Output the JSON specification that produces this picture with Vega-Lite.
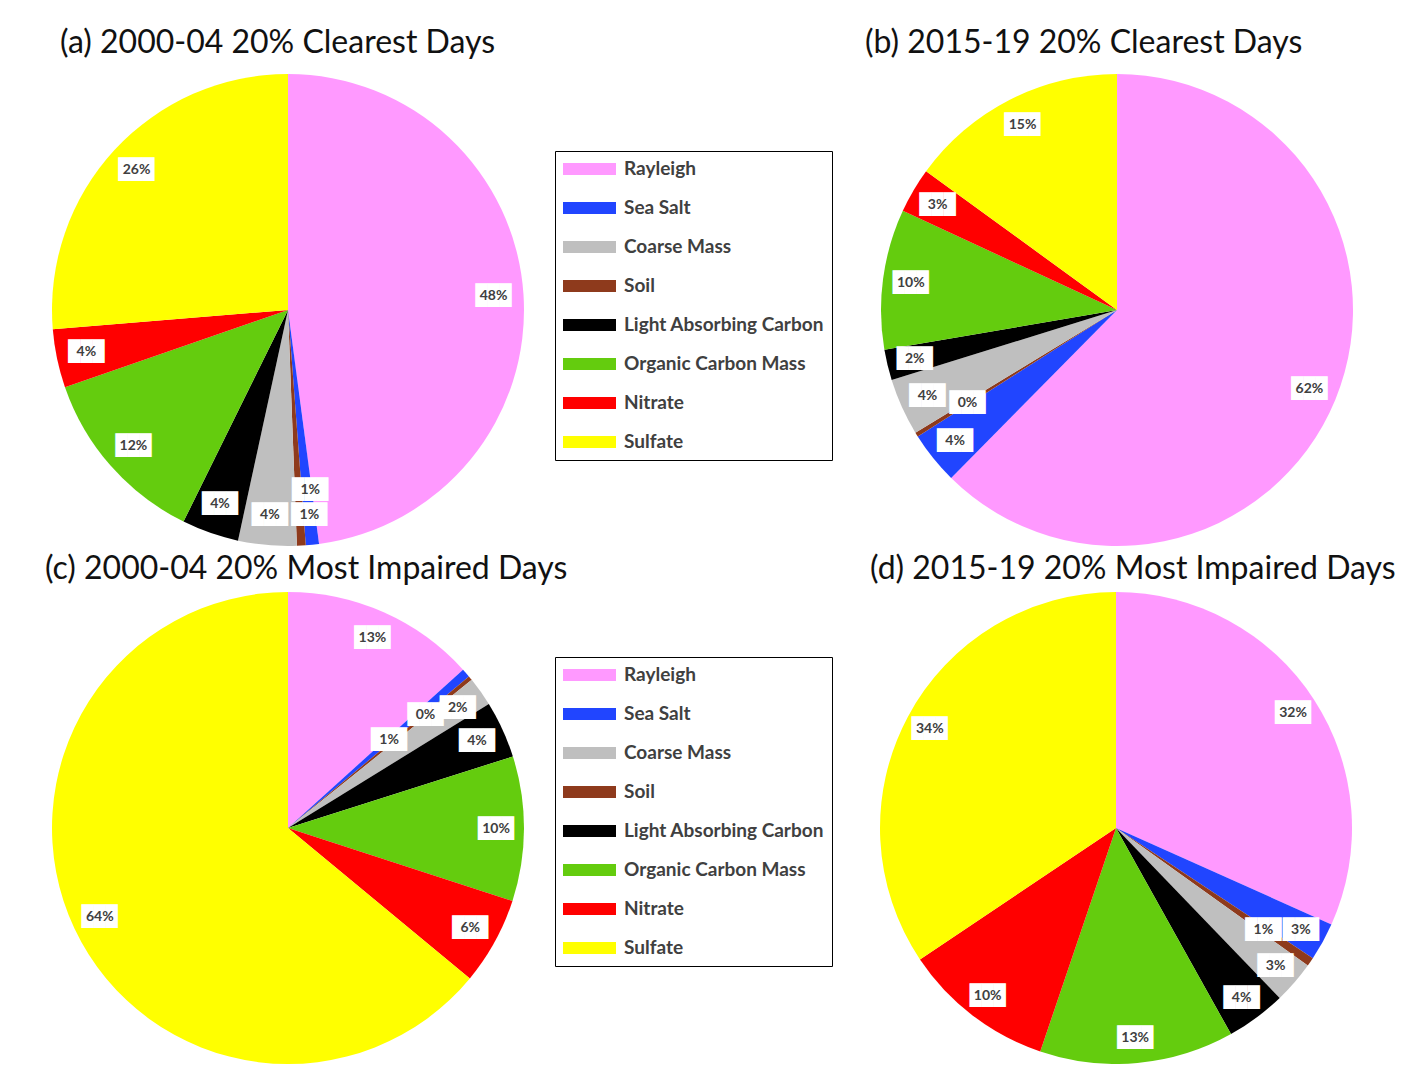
{
  "$schema": "https://vega.github.io/schema/vega-lite/v6.json",
  "padding": {"left": 45, "top": 27, "right": 0, "bottom": 0},
  "background": "white",
  "config": {
    "view": {"stroke": null},
    "title": {"font": "Lato", "fontSize": 32, "fontWeight": "normal", "color": "#111111", "anchor": "start", "frame": "group", "baseline": "alphabetic"},
    "legend": {"orient": "none", "title": null, "symbolType": "M-1,-0.6H4.3V0.6H-1Z", "symbolSize": 400, "symbolStrokeWidth": 0, "labelOffset": 41, "labelFont": "Lato", "labelFontSize": 19, "labelFontWeight": "bold", "labelColor": "#404040", "rowPadding": 19, "padding": 8, "strokeColor": "black", "fillColor": "white", "labelLimit": 300}
  },
  "datasets": {
    "d": [
      {"p": "a", "c": "Rayleigh", "v": 0.479, "o": 1},
      {"p": "a", "c": "Sea Salt", "v": 0.009, "o": 2},
      {"p": "a", "c": "Soil", "v": 0.006, "o": 3},
      {"p": "a", "c": "Coarse Mass", "v": 0.040, "o": 4},
      {"p": "a", "c": "Light Absorbing Carbon", "v": 0.039, "o": 5},
      {"p": "a", "c": "Organic Carbon Mass", "v": 0.124, "o": 6},
      {"p": "a", "c": "Nitrate", "v": 0.040, "o": 7},
      {"p": "a", "c": "Sulfate", "v": 0.263, "o": 8},
      {"p": "b", "c": "Rayleigh", "v": 0.624, "o": 1},
      {"p": "b", "c": "Sea Salt", "v": 0.036, "o": 2},
      {"p": "b", "c": "Soil", "v": 0.003, "o": 3},
      {"p": "b", "c": "Coarse Mass", "v": 0.039, "o": 4},
      {"p": "b", "c": "Light Absorbing Carbon", "v": 0.021, "o": 5},
      {"p": "b", "c": "Organic Carbon Mass", "v": 0.096, "o": 6},
      {"p": "b", "c": "Nitrate", "v": 0.031, "o": 7},
      {"p": "b", "c": "Sulfate", "v": 0.150, "o": 8},
      {"p": "c", "c": "Rayleigh", "v": 0.133, "o": 1},
      {"p": "c", "c": "Sea Salt", "v": 0.006, "o": 2},
      {"p": "c", "c": "Soil", "v": 0.003, "o": 3},
      {"p": "c", "c": "Coarse Mass", "v": 0.020, "o": 4},
      {"p": "c", "c": "Light Absorbing Carbon", "v": 0.039, "o": 5},
      {"p": "c", "c": "Organic Carbon Mass", "v": 0.099, "o": 6},
      {"p": "c", "c": "Nitrate", "v": 0.060, "o": 7},
      {"p": "c", "c": "Sulfate", "v": 0.640, "o": 8},
      {"p": "d", "c": "Rayleigh", "v": 0.317, "o": 1},
      {"p": "d", "c": "Sea Salt", "v": 0.026, "o": 2},
      {"p": "d", "c": "Soil", "v": 0.006, "o": 3},
      {"p": "d", "c": "Coarse Mass", "v": 0.029, "o": 4},
      {"p": "d", "c": "Light Absorbing Carbon", "v": 0.041, "o": 5},
      {"p": "d", "c": "Organic Carbon Mass", "v": 0.133, "o": 6},
      {"p": "d", "c": "Nitrate", "v": 0.104, "o": 7},
      {"p": "d", "c": "Sulfate", "v": 0.344, "o": 8}
    ]
  },
  "resolve": {"legend": {"color": "independent"}},
  "spacing": 7,
  "vconcat": [
    {
      "spacing": 32,
      "resolve": {"legend": {"color": "independent"}},
      "hconcat": [
        {
          "width": 472, "height": 472,
          "title": {"text": "(a) 2000-04 20% Clearest Days", "dx": 8, "offset": 14},
          "data": {"name": "d"},
          "transform": [{"filter": "datum.p === 'a'"}],
          "encoding": {"theta": {"field": "v", "type": "quantitative", "stack": true, "scale": {"domain": [0, 1]}}, "order": {"field": "o", "type": "quantitative"}},
          "layer": [
            {"mark": {"type": "arc"}, "encoding": {"color": {"field": "c", "type": "nominal",
              "scale": {"domain": ["Rayleigh", "Sea Salt", "Coarse Mass", "Soil", "Light Absorbing Carbon", "Organic Carbon Mass", "Nitrate", "Sulfate"], "range": ["#FF99FF", "#2145FF", "#BFBFBF", "#8E3A1C", "#000000", "#64CC0E", "#FF0000", "#FFFF00"]},
              "legend": {"legendX": 503, "legendY": 77}}}},
            {"mark": {"type": "text", "radius": 206, "font": "DejaVu Sans Mono", "fontSize": 20, "fill": "white", "baseline": "middle"}, "encoding": {"text": {"condition": {"test": "datum.c === 'Soil'", "value": ""}, "value": "\u2588\u2588\u2588"}}},
            {"mark": {"type": "text", "radius": 206, "font": "Lato", "fontWeight": "bold", "fontSize": 14, "fill": "#404040", "baseline": "middle"}, "encoding": {"text": {"condition": {"test": "datum.c === 'Soil'", "value": ""}, "field": "v", "type": "quantitative", "format": ".0%"}}},
            {"mark": {"type": "text", "radius": 180, "dx": 12, "font": "DejaVu Sans Mono", "fontSize": 20, "fill": "white", "baseline": "middle"}, "encoding": {"text": {"condition": {"test": "datum.c !== 'Soil'", "value": ""}, "value": "\u2588\u2588\u2588"}}},
            {"mark": {"type": "text", "radius": 180, "dx": 12, "font": "Lato", "fontWeight": "bold", "fontSize": 14, "fill": "#404040", "baseline": "middle"}, "encoding": {"text": {"condition": {"test": "datum.c !== 'Soil'", "value": ""}, "field": "v", "type": "quantitative", "format": ".0%"}}}
          ]
        },
        {
          "width": 472, "height": 472,
          "title": {"text": "(b) 2015-19 20% Clearest Days", "dx": -16, "offset": 14},
          "data": {"name": "d"},
          "transform": [{"filter": "datum.p === 'b'"}],
          "encoding": {"theta": {"field": "v", "type": "quantitative", "stack": true, "scale": {"domain": [0, 1]}}, "order": {"field": "o", "type": "quantitative"}},
          "layer": [
            {"mark": {"type": "arc"}, "encoding": {"color": {"field": "c", "type": "nominal", "legend": null}}},
            {"mark": {"type": "text", "radius": 208, "font": "DejaVu Sans Mono", "fontSize": 20, "fill": "white", "baseline": "middle"}, "encoding": {"text": {"condition": {"test": "datum.c === 'Soil'", "value": ""}, "value": "\u2588\u2588\u2588"}}},
            {"mark": {"type": "text", "radius": 208, "font": "Lato", "fontWeight": "bold", "fontSize": 14, "fill": "#404040", "baseline": "middle"}, "encoding": {"text": {"condition": {"test": "datum.c === 'Soil'", "value": ""}, "field": "v", "type": "quantitative", "format": ".0%"}}},
            {"mark": {"type": "text", "radius": 176, "font": "DejaVu Sans Mono", "fontSize": 20, "fill": "white", "baseline": "middle"}, "encoding": {"text": {"condition": {"test": "datum.c !== 'Soil'", "value": ""}, "value": "\u2588\u2588\u2588"}}},
            {"mark": {"type": "text", "radius": 176, "font": "Lato", "fontWeight": "bold", "fontSize": 14, "fill": "#404040", "baseline": "middle"}, "encoding": {"text": {"condition": {"test": "datum.c !== 'Soil'", "value": ""}, "field": "v", "type": "quantitative", "format": ".0%"}}}
          ]
        }
      ]
    },
    {
      "spacing": 37,
      "resolve": {"legend": {"color": "independent"}},
      "hconcat": [
        {
          "width": 472, "height": 472,
          "title": {"text": "(c) 2000-04 20% Most Impaired Days", "dx": -7, "offset": 6},
          "data": {"name": "d"},
          "transform": [{"filter": "datum.p === 'c'"}],
          "encoding": {"theta": {"field": "v", "type": "quantitative", "stack": true, "scale": {"domain": [0, 1]}}, "order": {"field": "o", "type": "quantitative"}},
          "layer": [
            {"mark": {"type": "arc"}, "encoding": {"color": {"field": "c", "type": "nominal",
              "legend": {"legendX": 503, "legendY": 65}}}},
            {"mark": {"type": "text", "radius": 208, "font": "DejaVu Sans Mono", "fontSize": 20, "fill": "white", "baseline": "middle"}, "encoding": {"text": {"condition": {"test": "datum.c === 'Soil' || datum.c === 'Sea Salt'", "value": ""}, "value": "\u2588\u2588\u2588"}}},
            {"mark": {"type": "text", "radius": 208, "font": "Lato", "fontWeight": "bold", "fontSize": 14, "fill": "#404040", "baseline": "middle"}, "encoding": {"text": {"condition": {"test": "datum.c === 'Soil' || datum.c === 'Sea Salt'", "value": ""}, "field": "v", "type": "quantitative", "format": ".0%"}}},
            {"mark": {"type": "text", "radius": 178, "font": "DejaVu Sans Mono", "fontSize": 20, "fill": "white", "baseline": "middle"}, "encoding": {"text": {"condition": {"test": "datum.c !== 'Soil'", "value": ""}, "value": "\u2588\u2588\u2588"}}},
            {"mark": {"type": "text", "radius": 178, "font": "Lato", "fontWeight": "bold", "fontSize": 14, "fill": "#404040", "baseline": "middle"}, "encoding": {"text": {"condition": {"test": "datum.c !== 'Soil'", "value": ""}, "field": "v", "type": "quantitative", "format": ".0%"}}},
            {"mark": {"type": "text", "radius": 134, "font": "DejaVu Sans Mono", "fontSize": 20, "fill": "white", "baseline": "middle"}, "encoding": {"text": {"condition": {"test": "datum.c !== 'Sea Salt'", "value": ""}, "value": "\u2588\u2588\u2588"}}},
            {"mark": {"type": "text", "radius": 134, "font": "Lato", "fontWeight": "bold", "fontSize": 14, "fill": "#404040", "baseline": "middle"}, "encoding": {"text": {"condition": {"test": "datum.c !== 'Sea Salt'", "value": ""}, "field": "v", "type": "quantitative", "format": ".0%"}}}
          ]
        },
        {
          "width": 472, "height": 472,
          "title": {"text": "(d) 2015-19 20% Most Impaired Days", "dx": -10, "offset": 6},
          "data": {"name": "d"},
          "transform": [{"filter": "datum.p === 'd'"}],
          "encoding": {"theta": {"field": "v", "type": "quantitative", "stack": true, "scale": {"domain": [0, 1]}}, "order": {"field": "o", "type": "quantitative"}},
          "layer": [
            {"mark": {"type": "arc"}, "encoding": {"color": {"field": "c", "type": "nominal", "legend": null}}},
            {"mark": {"type": "text", "radius": 211, "font": "DejaVu Sans Mono", "fontSize": 20, "fill": "white", "baseline": "middle"}, "encoding": {"text": {"condition": {"test": "datum.c === 'Soil'", "value": ""}, "value": "\u2588\u2588\u2588"}}},
            {"mark": {"type": "text", "radius": 211, "font": "Lato", "fontWeight": "bold", "fontSize": 14, "fill": "#404040", "baseline": "middle"}, "encoding": {"text": {"condition": {"test": "datum.c === 'Soil'", "value": ""}, "field": "v", "type": "quantitative", "format": ".0%"}}},
            {"mark": {"type": "text", "radius": 179, "font": "DejaVu Sans Mono", "fontSize": 20, "fill": "white", "baseline": "middle"}, "encoding": {"text": {"condition": {"test": "datum.c !== 'Soil'", "value": ""}, "value": "\u2588\u2588\u2588"}}},
            {"mark": {"type": "text", "radius": 179, "font": "Lato", "fontWeight": "bold", "fontSize": 14, "fill": "#404040", "baseline": "middle"}, "encoding": {"text": {"condition": {"test": "datum.c !== 'Soil'", "value": ""}, "field": "v", "type": "quantitative", "format": ".0%"}}}
          ]
        }
      ]
    }
  ]
}
